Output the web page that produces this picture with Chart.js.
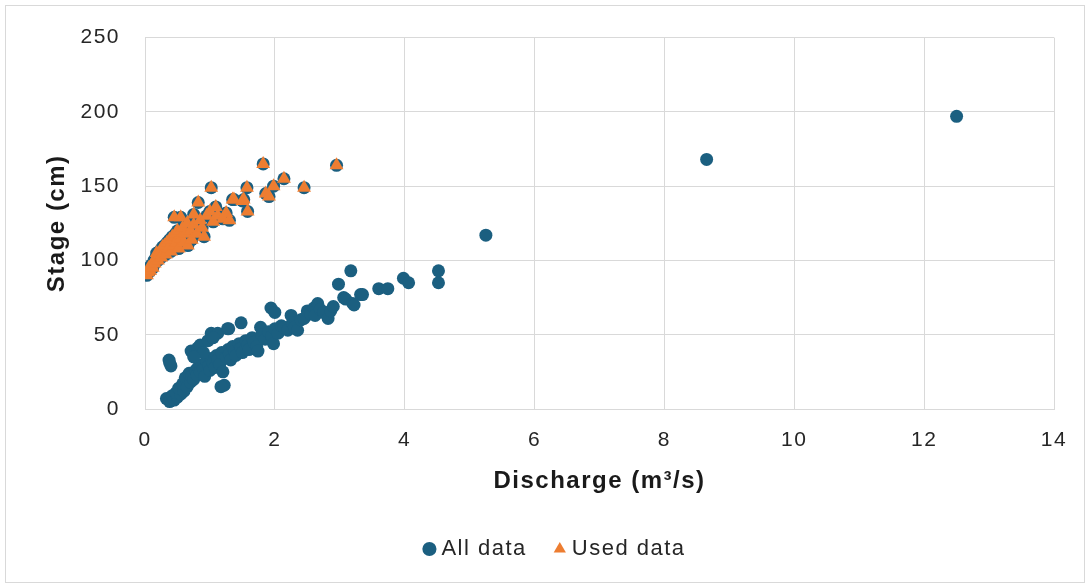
<!DOCTYPE html>
<html>
<head>
<meta charset="utf-8">
<script src="https://cdn.jsdelivr.net/npm/chart.js@4.4.1/dist/chart.umd.min.js"></script>
<style>
  body { margin: 0; background: #fff; }
  #wrap { position: relative; width: 1089px; height: 587px; }
  #frame { position: absolute; left: 5px; top: 5px; width: 1078px; height: 576px; border: 1px solid #d9d9d9; pointer-events: none; }
  canvas { position: absolute; left: 0; top: 0; }
</style>
</head>
<body>
<div id="wrap">
  <canvas id="rating" width="1089" height="587"></canvas>
  <div id="frame"></div>
</div>
<script>
// discharge (m3/s), stage (cm) pairs

// points used for the rating curve (also part of "All data")
const usedPoints = [
  [0.03, 90], [0.05, 92], [0.06, 95], [0.08, 93], [0.1, 97], [0.12, 95], [0.14, 100], [0.15, 98],
  [0.17, 102], [0.18, 105], [0.2, 100], [0.22, 104], [0.24, 107], [0.25, 102], [0.27, 109], [0.28, 105],
  [0.3, 110], [0.32, 104], [0.34, 112], [0.36, 108], [0.38, 114], [0.4, 106], [0.42, 116], [0.44, 110],
  [0.45, 129], [0.47, 118], [0.48, 112], [0.5, 120], [0.52, 108], [0.55, 129], [0.55, 115], [0.58, 122],
  [0.6, 112], [0.62, 118], [0.65, 125], [0.66, 110], [0.7, 120], [0.72, 114], [0.75, 131], [0.75, 124],
  [0.8, 118], [0.82, 139], [0.85, 127], [0.88, 122], [0.91, 116], [0.95, 130], [1.0, 133], [1.02, 149],
  [1.05, 126], [1.09, 136], [1.12, 130], [1.2, 128], [1.25, 132], [1.3, 127], [1.35, 141], [1.37, 141],
  [1.5, 140], [1.52, 141], [1.57, 149], [1.58, 133], [1.82, 165], [1.86, 145], [1.91, 143], [1.98, 150],
  [2.14, 155], [2.45, 149], [2.95, 164]
];

// remaining points, only in "All data"
const otherPoints = [
  [0.33, 7], [0.38, 5], [0.42, 9], [0.45, 6], [0.5, 8], [0.48, 11], [0.55, 10], [0.52, 14],
  [0.6, 12], [0.58, 17], [0.62, 21], [0.65, 15], [0.7, 18], [0.68, 24], [0.72, 22], [0.75, 20],
  [0.78, 26], [0.8, 23], [0.82, 28], [0.85, 25], [0.88, 30], [0.9, 27], [0.92, 22], [0.95, 32],
  [0.98, 29], [1.0, 26], [1.02, 34], [1.05, 31], [1.08, 28], [1.1, 36], [1.12, 33], [1.15, 30],
  [1.18, 38], [1.2, 25], [1.22, 16], [1.17, 15], [1.25, 35], [1.28, 40], [1.3, 37], [1.32, 33],
  [1.35, 42], [1.38, 39], [1.4, 36], [1.45, 44], [1.48, 41], [1.5, 38], [1.55, 46], [1.58, 43],
  [1.6, 40], [1.65, 48], [1.68, 45], [1.72, 42], [1.74, 39], [1.78, 55], [1.8, 50], [1.85, 47],
  [1.9, 52], [1.95, 49], [1.98, 44], [2.0, 54], [2.05, 51], [2.1, 56], [2.14, 55], [2.2, 53],
  [2.25, 63], [2.27, 58], [2.3, 55], [2.35, 53], [2.4, 60], [2.45, 61], [2.5, 66], [2.55, 64],
  [2.6, 68], [2.62, 63], [2.66, 71], [2.7, 67], [2.75, 65], [2.82, 61], [2.86, 66], [2.9, 69],
  [2.98, 84], [3.06, 75], [3.09, 74], [3.17, 93], [3.2, 71], [3.22, 70], [3.32, 77], [3.35, 77],
  [3.6, 81], [3.74, 81], [3.98, 88], [4.06, 85], [4.52, 93], [4.52, 85], [5.25, 117], [8.65, 168],
  [12.5, 197],
  [0.37, 33], [0.4, 29], [0.38, 31], [0.71, 39], [0.81, 41], [0.85, 43], [0.97, 46], [1.02, 51],
  [1.12, 51], [1.05, 48], [1.27, 54], [1.29, 54], [1.48, 58], [0.9, 38], [0.75, 35], [1.94, 68],
  [2.0, 65]
];

const seriesNames = ["All data", "Used data"];
const xTicks = [0, 2, 4, 6, 8, 10, 12, 14];
const yTicks = [0, 50, 100, 150, 200, 250];

const blue = "#1b5f80";
const orange = "#ed7d31";
const gridGray = "#d9d9d9";
const font = "Liberation Sans, Arial";

const toXY = p => ({ x: p[0], y: p[1] });
const allData = usedPoints.concat(otherPoints).map(toXY);
const usedData = usedPoints.map(toXY);

// excel text looks wider, fake it with letter spacing
const spacing = {
    id: "spacing",
    beforeUpdate(chart) { chart.ctx.letterSpacing = "1.5px"; },
    beforeDraw(chart) { chart.ctx.letterSpacing = "1.5px"; }
};

// legend in the reference sits a bit right of the canvas centre
const legendShift = {
    id: "legendShift",
    afterLayout(chart) {
        chart.legend.left += 30;
        chart.legend.right += 30;
    }
};

new Chart(document.getElementById("rating"), {
    type: "scatter",
    data: {
        datasets: [
            {
                label: seriesNames[0],
                data: allData,
                pointStyle: "circle",
                pointRadius: 6.5,
                pointBorderWidth: 0,
                backgroundColor: blue,
                borderColor: blue,
                order: 2
            },
            {
                label: seriesNames[1],
                data: usedData,
                pointStyle: "triangle",
                pointRadius: 8,
                pointBorderWidth: 0,
                backgroundColor: orange,
                borderColor: orange,
                order: 1
            }
        ]
    },
    options: {
        responsive: false,
        animation: false,
        devicePixelRatio: 1,
        layout: { padding: { left: 0, right: 35, top: 33, bottom: 17 } },
        plugins: {
            tooltip: { enabled: false },
            legend: {
                position: "bottom",
                labels: {
                    usePointStyle: true,
                    boxWidth: 2,
                    boxHeight: 10,
                    padding: 32,
                    color: "#262626",
                    font: { family: font, size: 22 },
                    sort: (a, b) => a.datasetIndex - b.datasetIndex
                }
            }
        },
        scales: {
            x: {
                type: "linear",
                min: 0,
                max: 14,
                afterBuildTicks: s => { s.ticks = xTicks.map(v => ({ value: v })); },
                afterFit: s => { s.height = 97; },
                grid: { color: gridGray, drawTicks: false },
                border: { color: gridGray },
                ticks: {
                    padding: 19,
                    color: "#262626",
                    font: { family: font, size: 21 }
                },
                title: {
                    display: true,
                    text: "Discharge (m³/s)",
                    color: "#1a1a1a",
                    padding: { top: 0, bottom: 10 },
                    font: { family: font, size: 24, weight: "bold" }
                }
            },
            y: {
                type: "linear",
                min: 0,
                max: 250,
                afterBuildTicks: s => { s.ticks = yTicks.map(v => ({ value: v })); },
                afterFit: s => { s.width = 145; },
                grid: { color: gridGray, drawTicks: false },
                border: { color: gridGray },
                ticks: {
                    padding: 25,
                    color: "#262626",
                    font: { family: font, size: 21 }
                },
                title: {
                    display: true,
                    text: "Stage (cm)",
                    color: "#1a1a1a",
                    padding: { top: 42.6, bottom: 0 },
                    font: { family: font, size: 24, weight: "bold" }
                }
            }
        }
    },
    plugins: [spacing, legendShift]
});
</script>
</body>
</html>
